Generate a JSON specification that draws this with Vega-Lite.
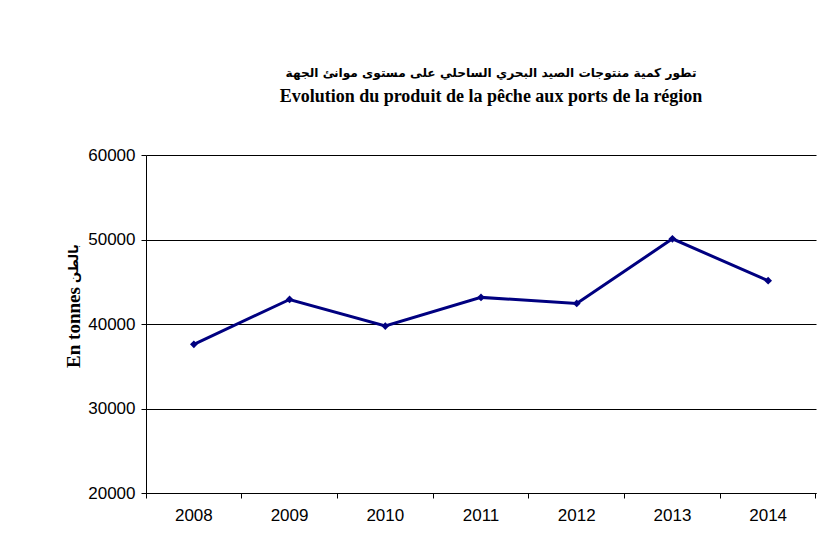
{
  "$schema": "https://vega.github.io/schema/vega-lite/v6.json",
  "autosize": "none",
  "width": 670,
  "height": 338,
  "padding": {"left": 146, "top": 155, "right": 3, "bottom": 54},
  "background": "white",
  "config": {
    "view": {"stroke": null},
    "axis": {"labelFont": "Liberation Sans", "labelFontSize": 17, "labelColor": "black", "domainColor": "black", "domainWidth": 1, "tickColor": "black", "gridColor": "black", "titleFont": "Liberation Serif", "titleColor": "black"}
  },
  "title": {
    "text": "تطور كمية منتوجات الصيد البحري الساحلي على مستوى موانئ الجهة",
    "subtitle": "Evolution du produit de la pêche aux ports de la région",
    "font": "DejaVu Sans",
    "fontSize": 12.2,
    "fontWeight": "bold",
    "color": "black",
    "subtitleFont": "Liberation Serif",
    "subtitleFontSize": 18,
    "subtitleFontWeight": "bold",
    "subtitleColor": "black",
    "subtitlePadding": 9,
    "anchor": "middle",
    "dx": 10,
    "offset": 40
  },
  "data": {
    "values": [
      {"year": "2008", "value": 37600},
      {"year": "2009", "value": 42900},
      {"year": "2010", "value": 39760},
      {"year": "2011", "value": 43150},
      {"year": "2012", "value": 42440},
      {"year": "2013", "value": 50080},
      {"year": "2014", "value": 45120}
    ]
  },
  "encoding": {
    "x": {
      "field": "year", "type": "ordinal",
      "scale": {"type": "band", "paddingInner": 0, "paddingOuter": 0},
      "axis": {"title": null, "labelAngle": 0, "bandPosition": 1, "tickExtra": true, "tickSize": 5, "labelPadding": 9, "grid": false}
    }
  },
  "layer": [
    {
      "mark": {"type": "line", "color": "#000080", "strokeWidth": 3},
      "encoding": {
        "y": {
          "field": "value", "type": "quantitative",
          "scale": {"domain": [20000, 60000], "nice": false, "zero": false},
          "axis": {"orient": "left", "values": [20000, 30000, 40000, 50000, 60000], "format": "d", "tickSize": 5, "labelPadding": 6, "grid": true,
            "title": "En tonnes", "titleFontSize": 19, "titleFontWeight": "bold", "titleAngle": -90, "titleX": -67, "titleY": 172, "titleAlign": "center", "titleBaseline": "alphabetic"}
        }
      }
    },
    {
      "mark": {"type": "point", "shape": "diamond", "filled": true, "color": "#000080", "size": 60, "opacity": 1},
      "encoding": {
        "y": {
          "field": "value", "type": "quantitative",
          "axis": {"orient": "left", "values": [], "domain": false, "ticks": false, "labels": false, "grid": false,
            "title": "بالطن", "titleFont": "DejaVu Sans", "titleFontSize": 13, "titleFontWeight": "bold", "titleAngle": -90, "titleX": -69, "titleY": 108, "titleAlign": "center", "titleBaseline": "alphabetic"}
        }
      }
    }
  ],
  "resolve": {"axis": {"y": "independent"}}
}
